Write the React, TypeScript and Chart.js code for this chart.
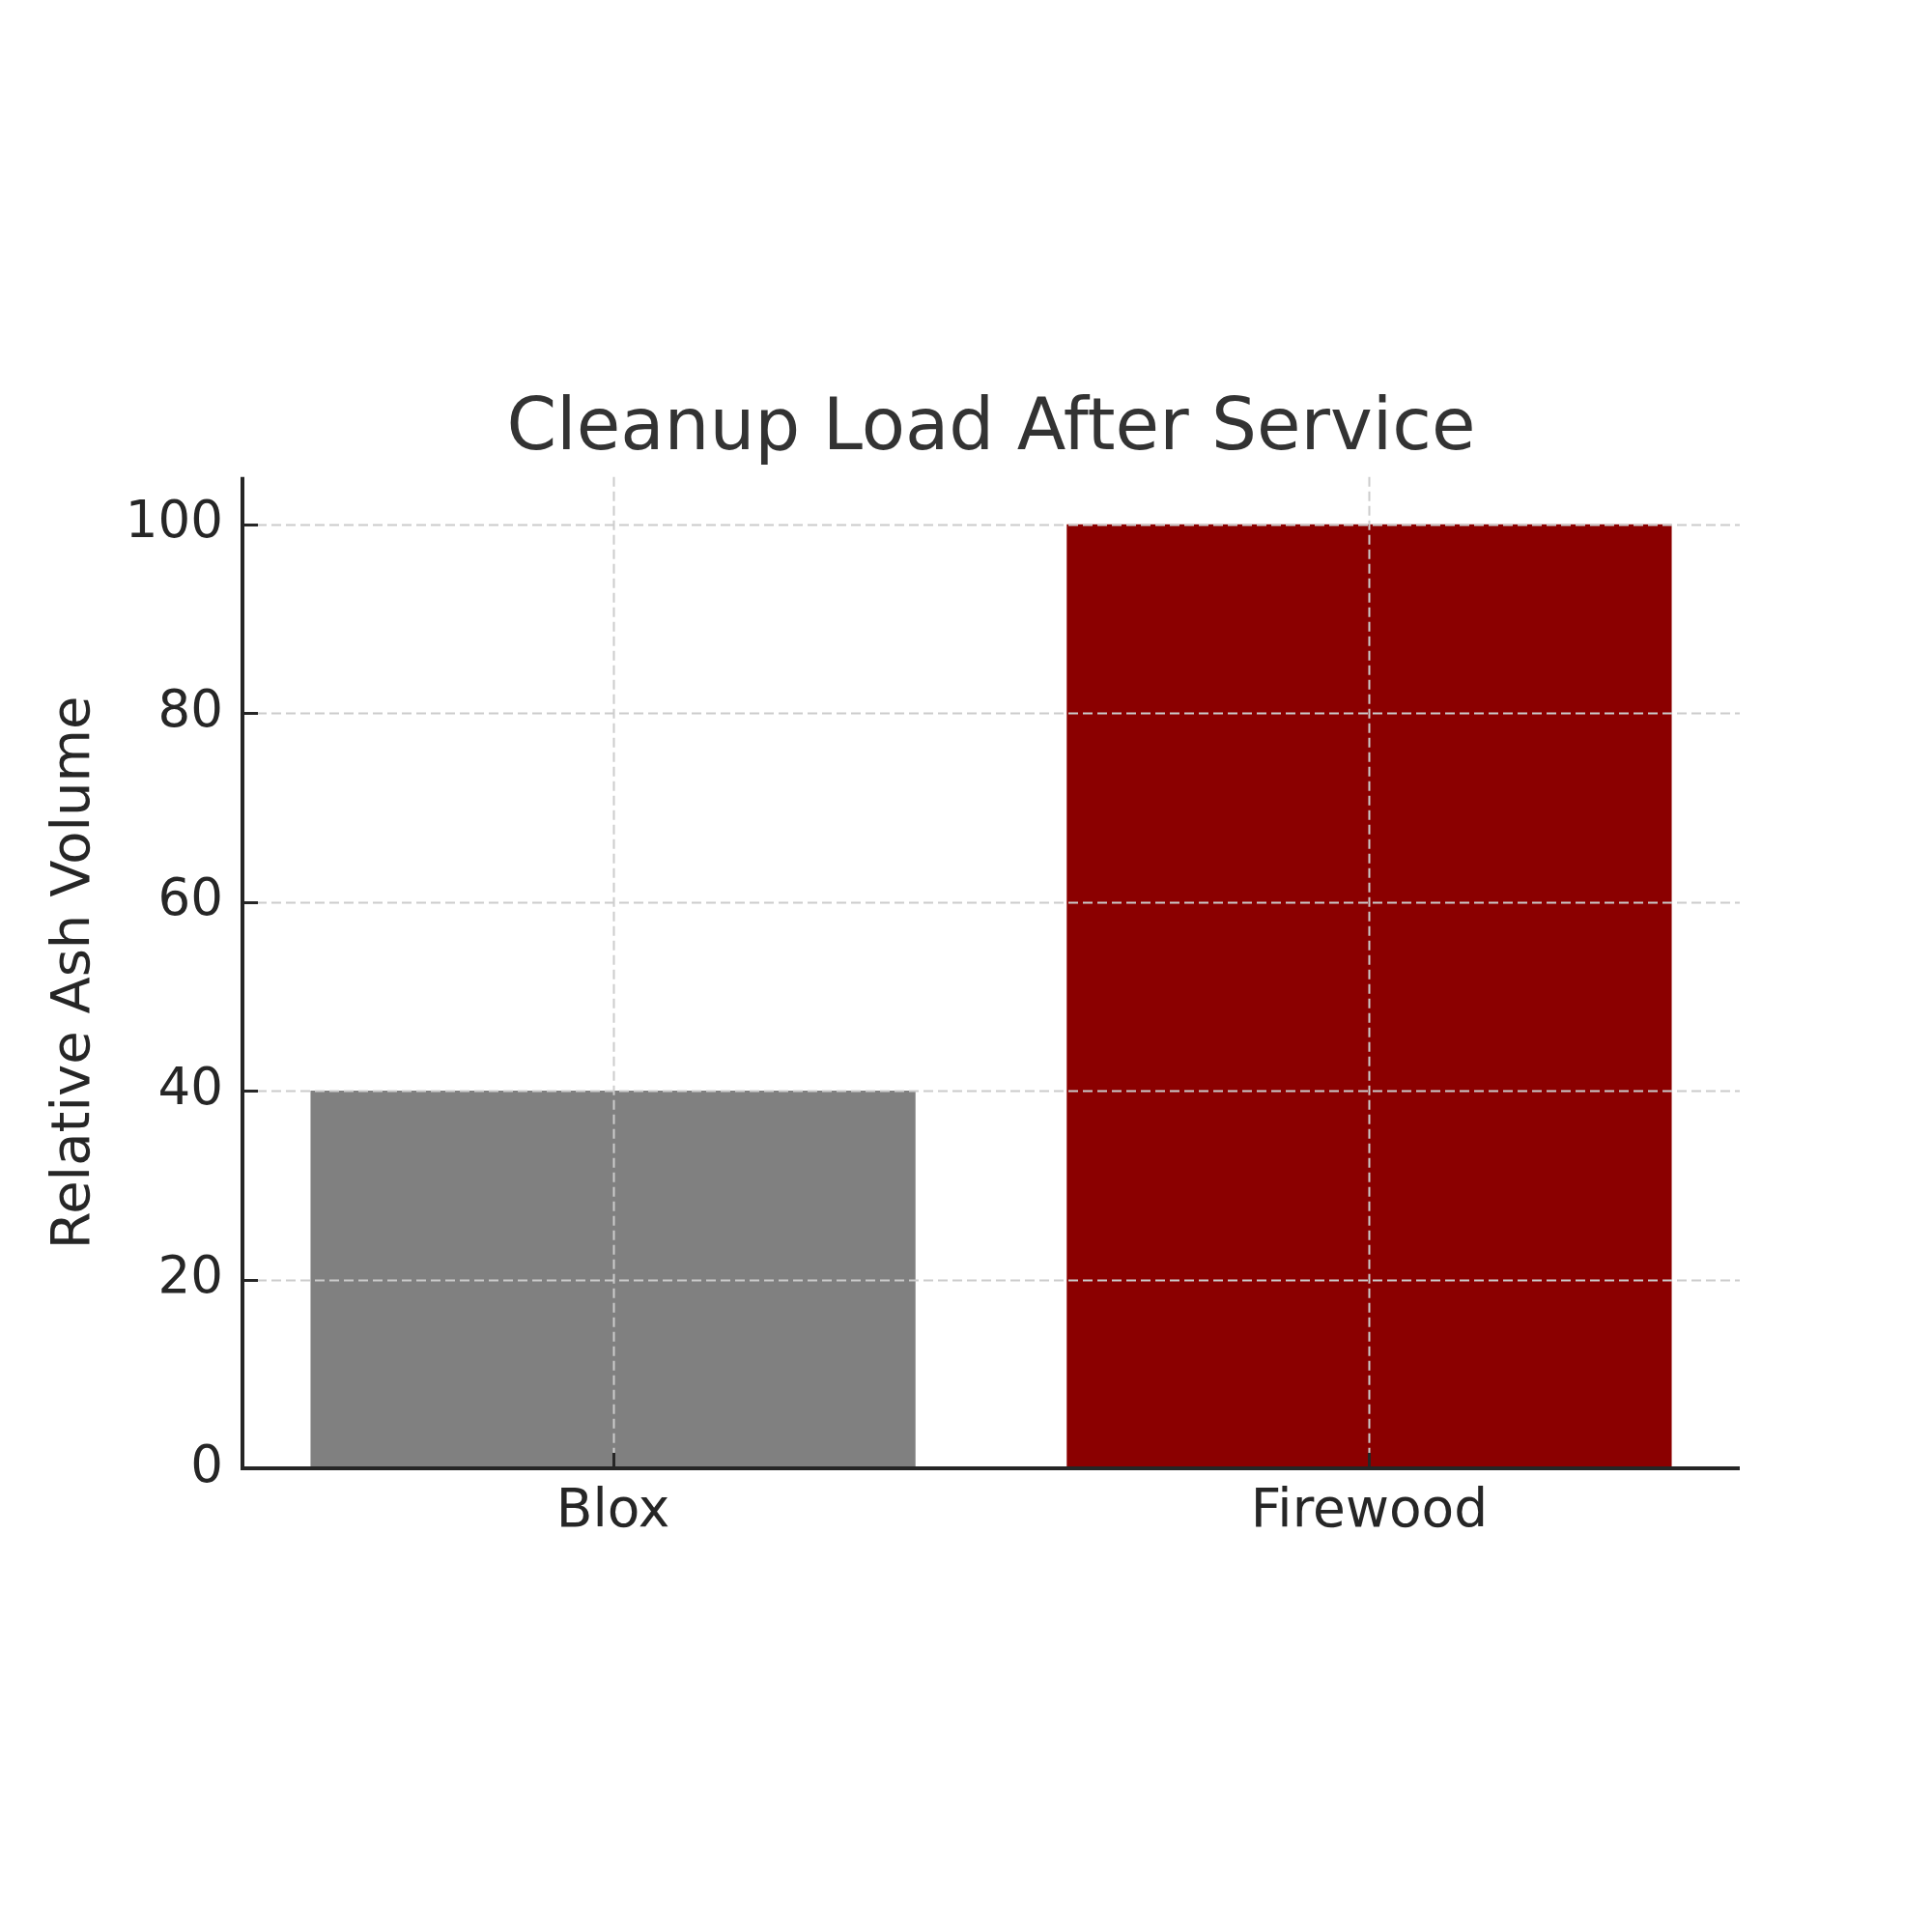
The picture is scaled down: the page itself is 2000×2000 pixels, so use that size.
import React, { useRef, useEffect } from 'react';
import { Chart, registerables } from 'chart.js';

Chart.register(...registerables);

// data
const categories = ['Blox', 'Firewood'];
const ashVolume = [40, 100];
const barColors = ['#808080', '#8b0000'];
const yTicks = [0, 20, 40, 60, 80, 100];

const FONT = "'DejaVu Sans', 'Liberation Sans', sans-serif";
const TEXT = '#262626';

// grid on top of the bars, spines and inward tick marks (matplotlib look)
const overlayPlugin = {
    id: 'overlay',
    afterDatasetsDraw(chart: any) {
        const { ctx, chartArea, scales } = chart;
        const xs = scales.x;
        const ys = scales.y;
        ctx.save();

        ctx.strokeStyle = '#cccccc';
        ctx.lineWidth = 2;
        ctx.setLineDash([10, 5]);
        yTicks.forEach(v => {
            const y = Math.round(ys.getPixelForValue(v)) + 0.5;
            ctx.beginPath();
            ctx.moveTo(chartArea.left, y);
            ctx.lineTo(chartArea.right, y);
            ctx.stroke();
        });
        categories.forEach((_, i) => {
            const x = Math.round(xs.getPixelForValue(i)) + 0.5;
            ctx.beginPath();
            ctx.moveTo(x, chartArea.top);
            ctx.lineTo(x, chartArea.bottom);
            ctx.stroke();
        });

        ctx.setLineDash([]);
        ctx.strokeStyle = TEXT;
        ctx.lineWidth = 3;
        const tl = 16;
        yTicks.forEach(v => {
            const y = Math.round(ys.getPixelForValue(v)) + 0.5;
            ctx.beginPath();
            ctx.moveTo(chartArea.left, y);
            ctx.lineTo(chartArea.left + tl, y);
            ctx.stroke();
        });
        categories.forEach((_, i) => {
            const x = Math.round(xs.getPixelForValue(i)) + 0.5;
            ctx.beginPath();
            ctx.moveTo(x, chartArea.bottom);
            ctx.lineTo(x, chartArea.bottom - tl);
            ctx.stroke();
        });

        // left + bottom spines
        ctx.lineWidth = 4;
        ctx.beginPath();
        ctx.moveTo(chartArea.left, chartArea.top);
        ctx.lineTo(chartArea.left, chartArea.bottom);
        ctx.lineTo(chartArea.right, chartArea.bottom);
        ctx.stroke();
        ctx.restore();
    },
};

const App: React.FC = () => {
    const chartRef = useRef<HTMLCanvasElement>(null);

    useEffect(() => {
        if (!chartRef.current) return;

        const myChart = new Chart(chartRef.current, {
            type: 'bar',
            data: {
                datasets: [{
                    label: 'Relative Ash Volume',
                    data: ashVolume.map((v, i) => ({ x: i, y: v })),
                    backgroundColor: barColors,
                    borderWidth: 0,
                    barPercentage: 0.8,
                    categoryPercentage: 1.0,
                }]
            },
            options: {
                responsive: false,
                devicePixelRatio: 1,
                animation: false,
                layout: { padding: { left: 0, right: 199, top: 0, bottom: 0 } },
                plugins: {
                    legend: { display: false },
                    tooltip: { enabled: false },
                    title: {
                        display: true,
                        fullSize: false,
                        text: 'Cleanup Load After Service',
                        color: '#333333',
                        font: { family: FONT, size: 74, weight: 'normal', lineHeight: 1.2 },
                        padding: { top: 401, bottom: 4 },
                    },
                },
                scales: {
                    x: {
                        type: 'linear',
                        offset: false,
                        min: -0.49,
                        max: 1.49,
                        grid: { display: false, offset: false },
                        border: { display: false },
                        ticks: {
                            stepSize: 1,
                            includeBounds: false,
                            color: TEXT,
                            padding: 5,
                            font: { family: FONT, size: 55 },
                            callback: (value: any) => categories[value] ?? '',
                        },
                        afterFit: (scale: any) => { scale.height = 480; },
                    },
                    y: {
                        min: 0,
                        max: 105,
                        grid: { display: false },
                        border: { display: false },
                        ticks: {
                            stepSize: 20,
                            includeBounds: false,
                            color: TEXT,
                            padding: 12,
                            font: { family: FONT, size: 53 },
                        },
                        title: {
                            display: true,
                            text: 'Relative Ash Volume',
                            color: TEXT,
                            font: { family: FONT, size: 56, lineHeight: 1.2 },
                            padding: { top: 44, bottom: 0 },
                        },
                        afterFit: (scale: any) => { scale.width = 251; },
                    },
                },
            },
            plugins: [overlayPlugin],
        });

        return () => {
            myChart.destroy(); // Clean up
        };
    }, []);

    return (
        <div style={{ position: 'absolute', left: 0, top: 0, width: 2000, height: 2000, background: '#ffffff' }}>
            <canvas ref={chartRef} width={2000} height={2000} style={{ width: 2000, height: 2000 }} />
        </div>
    );
};

export default App;
